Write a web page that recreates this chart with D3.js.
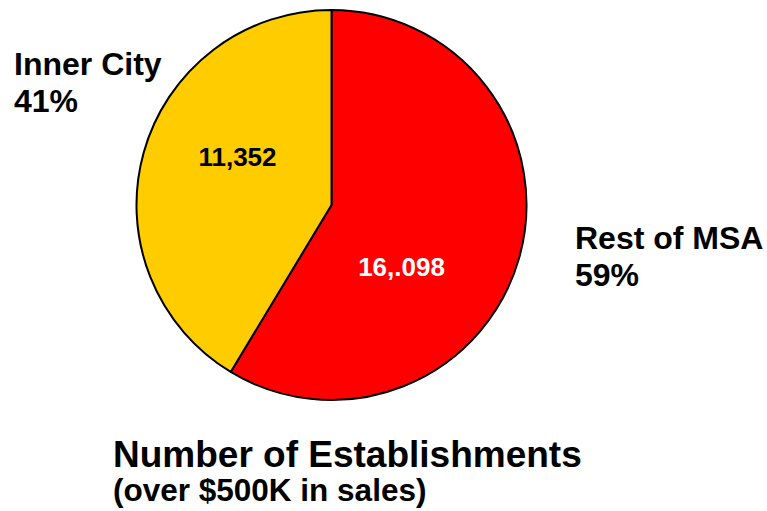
<!DOCTYPE html>
<html>
<head>
<meta charset="utf-8">
<script src="https://cdn.jsdelivr.net/npm/d3@7"></script>
<style>
  html, body { margin: 0; padding: 0; background: #fff; }
  svg { display: block; }
  text { font-family: "Liberation Sans", Arial, sans-serif; font-weight: bold; }
</style>
</head>
<body>
<svg id="chart" width="767" height="511"></svg>
<script>
// Establishments with over $500K in sales, by location
const categories = ["Rest of MSA", "Inner City"];
const counts = [16098, 11352];
const valueLabels = ["16,.098", "11,352"];
const colors = ["#FF0000", "#FFCC00"];
const labelColors = ["#FFFFFF", "#000000"];

const svg = d3.select("#chart");
const cx = 331.5, cy = 205, R = 195;

const data = categories.map((c, i) => ({ name: c, value: counts[i], label: valueLabels[i], color: colors[i], lc: labelColors[i] }));
const total = d3.sum(counts);
const pct = d3.format(".0%");

const pie = d3.pie().sort(null).value(d => d.value);
const arc = d3.arc().innerRadius(0).outerRadius(R);
const arcs = pie(data);

const g = svg.append("g").attr("transform", `translate(${cx},${cy})`);

g.selectAll("path.slice")
  .data(arcs)
  .join("path")
  .attr("class", "slice")
  .attr("d", arc)
  .attr("fill", d => d.data.color)
  .attr("stroke", "#000")
  .attr("stroke-width", 2)
  .attr("stroke-linejoin", "round");

// Value labels inside slices
const innerPos = [[70, 71], [-94, -39]];
g.selectAll("text.val")
  .data(arcs)
  .join("text")
  .attr("class", "val")
  .attr("x", (d, i) => innerPos[i][0])
  .attr("y", (d, i) => innerPos[i][1])
  .attr("text-anchor", "middle")
  .attr("font-size", 26)
  .attr("fill", d => d.data.lc)
  .text(d => d.data.label);

// Outside category labels with percentages
const outside = [
  { x: 575, y: 249 },
  { x: 14, y: 75 }
];
arcs.forEach((d, i) => {
  const t = svg.append("text")
    .attr("x", outside[i].x)
    .attr("y", outside[i].y)
    .attr("font-size", 32)
    .attr("fill", "#000");
  t.append("tspan").attr("x", outside[i].x).text(d.data.name);
  t.append("tspan").attr("x", outside[i].x).attr("dy", 37)
    .text(pct(d.data.value / total));
});

// Title
svg.append("text")
  .attr("x", 113).attr("y", 467)
  .attr("font-size", 37)
  .attr("fill", "#000")
  .text("Number of Establishments");
svg.append("text")
  .attr("x", 113).attr("y", 501)
  .attr("font-size", 31.5)
  .attr("fill", "#000")
  .text("(over $500K in sales)");
</script>
</body>
</html>
